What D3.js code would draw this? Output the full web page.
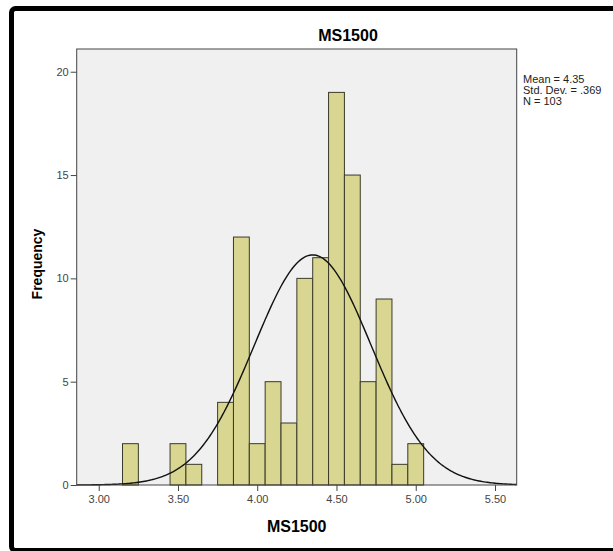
<!DOCTYPE html>
<html>
<head>
<meta charset="utf-8">
<script src="https://cdn.jsdelivr.net/npm/d3@7"></script>
<style>
  body { margin: 0; background: #fff; }
  svg { display: block; font-family: Arial, "Liberation Sans", sans-serif; }
</style>
</head>
<body>
<div id="chart"></div>
<script>
// Data
var binStarts = [3.15, 3.45, 3.55, 3.75, 3.85, 3.95, 4.05, 4.15, 4.25, 4.35, 4.45, 4.55, 4.65, 4.75, 4.85, 4.95];
var counts    = [2,    2,    1,    4,    12,   2,    5,    3,    10,   11,   19,   15,   5,    9,    1,    2];
var binWidth = 0.1;
var xTicks = [3.0, 3.5, 4.0, 4.5, 5.0, 5.5];
var yTicks = [0, 5, 10, 15, 20];
var statLabels = ["Mean = 4.35", "Std. Dev. = .369", "N = 103"];
var mean = 4.35, sd = 0.369, n = 103;

var W = 613, H = 551;
var plot = {left: 76.7, right: 516.7, top: 49, bottom: 485};

var svg = d3.select("#chart").append("svg")
  .attr("width", W)
  .attr("height", H);

var x = d3.scaleLinear().domain([2.861, 5.637]).range([plot.left, plot.right]);
var y = d3.scaleLinear().domain([0, 21.1]).range([plot.bottom, plot.top]);

// plot background
svg.append("rect")
  .attr("x", plot.left).attr("y", plot.top)
  .attr("width", plot.right - plot.left)
  .attr("height", plot.bottom - plot.top)
  .attr("fill", "#f0f0f0");

// bars
svg.append("g")
  .selectAll("rect")
  .data(binStarts)
  .enter()
  .append("rect")
    .attr("x", function(d) { return x(d); })
    .attr("y", function(d, i) { return y(counts[i]); })
    .attr("width", function(d) { return x(d + binWidth) - x(d); })
    .attr("height", function(d, i) { return y(0) - y(counts[i]); })
    .attr("fill", "#d8d690")
    .attr("stroke", "#3a3a2a")
    .attr("stroke-width", 1);

// normal curve from the stated mean / sd / N
var curvePts = d3.range(x.domain()[0], x.domain()[1], 0.01).concat([x.domain()[1]]);
var dens = function(v) {
  return n * binWidth / (sd * Math.sqrt(2 * Math.PI)) * Math.exp(-0.5 * Math.pow((v - mean) / sd, 2));
};
svg.append("path")
  .datum(curvePts)
  .attr("fill", "none")
  .attr("stroke", "#111")
  .attr("stroke-width", 1.4)
  .attr("d", d3.line()
    .x(function(d) { return x(d); })
    .y(function(d) { return y(dens(d)); }));

// plot frame
svg.append("rect")
  .attr("x", plot.left).attr("y", plot.top)
  .attr("width", plot.right - plot.left)
  .attr("height", plot.bottom - plot.top)
  .attr("fill", "none")
  .attr("stroke", "#444")
  .attr("stroke-width", 1);

// axes
var xAxis = svg.append("g")
  .attr("transform", "translate(0," + plot.bottom + ")")
  .call(d3.axisBottom(x).tickValues(xTicks).tickFormat(d3.format(".2f")).tickSizeOuter(0).tickSize(6));
var yAxis = svg.append("g")
  .attr("transform", "translate(" + plot.left + ",0)")
  .call(d3.axisLeft(y).tickValues(yTicks).tickSizeOuter(0).tickSize(6).tickPadding(2));
[xAxis, yAxis].forEach(function(a) {
  a.select(".domain").remove();
  a.selectAll("line").attr("stroke", "#444");
  a.selectAll("text")
    .attr("fill", "#444")
    .style("font-size", "11px")
    .style("font-family", "Arial, 'Liberation Sans', sans-serif");
});
xAxis.selectAll("text").attr("dy", "0.95em").attr("y", 8);

// titles
svg.append("text")
  .attr("x", 348).attr("y", 41)
  .attr("text-anchor", "middle")
  .style("font-size", "16px").style("font-weight", "bold")
  .text("MS1500");
svg.append("text")
  .attr("x", (plot.left + plot.right) / 2).attr("y", 532)
  .attr("text-anchor", "middle")
  .style("font-size", "16px").style("font-weight", "bold")
  .text("MS1500");
svg.append("text")
  .attr("transform", "translate(42," + 264 + ") rotate(-90)")
  .attr("text-anchor", "middle")
  .style("font-size", "14px").style("font-weight", "bold")
  .text("Frequency");

// stats box
svg.append("g")
  .selectAll("text")
  .data(statLabels)
  .enter()
  .append("text")
    .attr("x", 523)
    .attr("y", function(d, i) { return 83 + i * 11; })
    .style("font-size", "11px")
    .attr("fill", "#222")
    .text(function(d) { return d; });

// outer black frame
svg.append("rect")
  .attr("x", 11.5).attr("y", 8.5)
  .attr("width", 640).attr("height", 542)
  .attr("rx", 4)
  .attr("fill", "none")
  .attr("stroke", "#000")
  .attr("stroke-width", 5);
</script>
</body>
</html>
